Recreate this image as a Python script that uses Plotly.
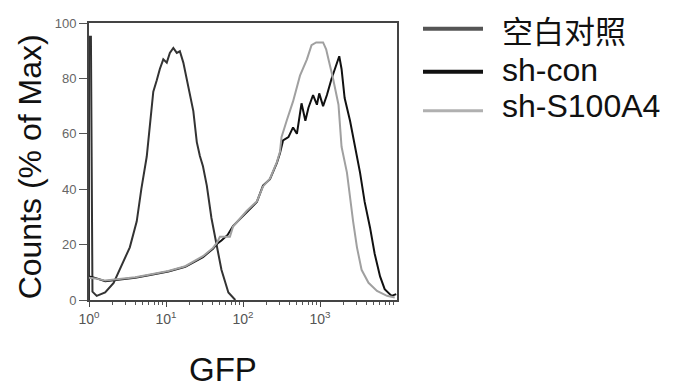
import numpy as np
import plotly.graph_objects as go

# ---- data (log10 GFP intensity, % of max) ----
blank_log = [0.0, 0.0, 0.025, 0.045, 0.10, 0.21, 0.32, 0.42, 0.53, 0.62, 0.68, 0.75, 0.79,
             0.835, 0.88, 0.92, 0.965, 1.01, 1.05, 1.095, 1.14, 1.18, 1.225, 1.29, 1.355,
             1.40, 1.44, 1.48, 1.53, 1.59, 1.66, 1.72, 1.81, 1.90]
blank_val = [0.0, 95.0, 95.0, 3.0, 1.5, 2.7, 6.2, 12.0, 19.0, 28.4, 40.1, 51.8, 63.5,
             75.2, 79.3, 83.4, 86.9, 85.7, 89.2, 91.0, 89.2, 89.8, 85.7, 77.5, 68.2,
             57.0, 52.0, 48.3, 41.3, 29.6, 20.2, 10.9, 2.7, 0.0]

shcon_log = [0.0, 0.08, 0.21, 0.38, 0.60, 0.81, 1.03, 1.25, 1.48, 1.61, 1.66, 1.72, 1.80,
             1.87, 2.05, 2.18, 2.26, 2.35, 2.44, 2.48, 2.52, 2.59, 2.65, 2.70, 2.76, 2.81,
             2.85, 2.91, 2.96, 2.99, 3.04, 3.09, 3.15, 3.21, 3.25, 3.28, 3.32, 3.39, 3.45,
             3.52, 3.58, 3.65, 3.71, 3.78, 3.84, 3.93, 3.99]
shcon_val = [8.5, 8.0, 6.8, 7.4, 8.0, 9.1, 10.3, 12.0, 15.5, 18.5, 20.2, 21.5, 23.5,
             26.7, 31.9, 35.4, 41.3, 43.6, 49.5, 53.0, 57.6, 58.8, 62.3, 60.0, 71.0, 64.7,
             69.4, 74.0, 70.5, 74.6, 70.0, 74.0, 79.9, 85.2, 88.0, 83.4, 72.9, 64.7, 56.5,
             46.0, 35.4, 26.1, 16.7, 8.5, 3.9, 1.5, 2.1]

shs_log = [0.0, 0.08, 0.21, 0.38, 0.60, 0.81, 1.03, 1.25, 1.48, 1.61, 1.66, 1.70, 1.83,
           1.87, 2.05, 2.18, 2.26, 2.35, 2.44, 2.48, 2.50, 2.567, 2.65, 2.74, 2.83, 2.89,
           2.95, 3.04, 3.08, 3.11, 3.17, 3.24, 3.28, 3.35, 3.39, 3.43, 3.48, 3.54, 3.63,
           3.74, 3.87, 3.97]
shs_val = [8.0, 7.8, 7.0, 7.6, 8.2, 9.3, 10.5, 12.2, 15.8, 18.8, 20.6, 22.8, 22.8,
           26.5, 32.2, 35.6, 41.0, 43.8, 49.8, 53.5, 58.8, 64.7, 71.7, 81.0, 86.9, 92.0,
           93.0, 93.0, 90.5, 86.9, 79.9, 70.5, 55.3, 46.0, 36.6, 28.4, 19.0, 10.9, 6.2,
           3.3, 1.5, 0.9]

series_names = ["空白对照", "sh-con", "sh-S100A4"]
series_colors = ["#333333", "#111111", "#a0a0a0"]
legend_colors = ["#555555", "#111111", "#b0b0b0"]

x_tick_vals = [1, 10, 100, 1000]
x_tick_text = ["10<sup>0</sup>", "10<sup>1</sup>", "10<sup>2</sup>", "10<sup>3</sup>"]
y_tick_vals = [0, 20, 40, 60, 80, 100]
minor_x = [m * 10 ** d for d in range(4) for m in range(2, 10)]

fig = go.Figure()
for logs, vals, name, col in [(blank_log, blank_val, series_names[0], series_colors[0]),
                              (shcon_log, shcon_val, series_names[1], series_colors[1]),
                              (shs_log, shs_val, series_names[2], series_colors[2])]:
    fig.add_trace(go.Scatter(x=10 ** np.array(logs), y=vals, mode="lines", name=name,
                             line=dict(color=col, width=2), showlegend=False))

# page body has an 8px default margin: work in reference pixels, shift by OFF
OFF = 8
W, H = 674, 389
L, T = 89 - OFF, 16 - OFF
R = W - (397 - OFF)
B = H - (300 - OFF)
pw, ph = W - L - R, H - T - B

def px(xp):
    return (xp - OFF - L) / pw

def py(yp):
    return (H - B - (yp - OFF)) / ph

font = "Liberation Sans, Arial, sans-serif"

fig.update_layout(
    width=W, height=H, margin=dict(l=L, r=R, t=T, b=B),
    plot_bgcolor="white", paper_bgcolor="white",
    xaxis=dict(type="log", range=[0, 4], tickvals=x_tick_vals, ticktext=x_tick_text,
               ticks="outside", ticklen=5, tickcolor="#444", showgrid=False,
               showline=True, linecolor="#444", linewidth=2, mirror=True, zeroline=False,
               tickfont=dict(family=font, size=14, color="#555"),
               minor=dict(tickvals=minor_x, ticks="outside", ticklen=3, tickcolor="#555")),
    yaxis=dict(range=[0, 100], tickvals=y_tick_vals, ticks="outside", ticklen=8,
               tickcolor="#555", showgrid=False, zeroline=False,
               showline=True, linecolor="#444", linewidth=2, mirror=True,
               tickfont=dict(family=font, size=13, color="#666")),
)

# axis titles
fig.add_annotation(text="Counts (% of Max)", x=px(30), y=py(164), xref="paper", yref="paper",
                   textangle=-90, showarrow=False, xanchor="center", yanchor="middle",
                   font=dict(family=font, size=32, color="#111"))
fig.add_annotation(text="GFP", x=px(223), y=py(371), xref="paper", yref="paper",
                   showarrow=False, xanchor="center", yanchor="middle",
                   font=dict(family=font, size=33, color="#111"))

# legend (drawn manually)
leg_line_y = [22, 66, 106]
leg_text_y = [23, 64, 101]
leg_widths = [4, 4, 3]
leg_sizes = [31, 32, 32]
for i, name in enumerate(series_names):
    fig.add_shape(type="line", xref="paper", yref="paper", x0=px(423), x1=px(483),
                  y0=py(leg_line_y[i]), y1=py(leg_line_y[i]),
                  line=dict(color=legend_colors[i], width=leg_widths[i]))
    fam = "Noto Sans CJK SC, sans-serif" if i == 0 else font
    fig.add_annotation(text=name, x=px(500), y=py(leg_text_y[i]), xref="paper", yref="paper",
                       showarrow=False, xanchor="left", yanchor="middle",
                       font=dict(family=fam, size=leg_sizes[i], color="#111"))

fig.write_html("out.html")
